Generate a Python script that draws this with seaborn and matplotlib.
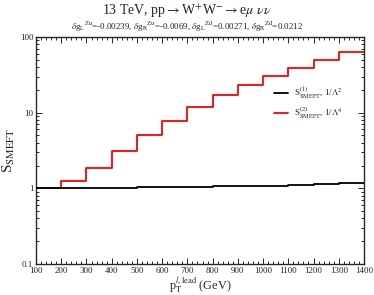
import numpy as np
import pandas as pd
import matplotlib
matplotlib.use("Agg")
import matplotlib.pyplot as plt
import seaborn as sns
from matplotlib.ticker import MultipleLocator, LogLocator, FixedLocator, NullFormatter

# bin edges in GeV and per-bin values
bin_edges = [100, 200, 300, 400, 500, 600, 700, 800, 900, 1000, 1100, 1200, 1300, 1400]
s1_vals = [1.00, 1.005, 1.01, 1.02, 1.03, 1.04, 1.05, 1.06, 1.08, 1.09, 1.11, 1.13, 1.16]
s2_vals = [1.02, 1.24, 1.85, 3.07, 5.0, 7.85, 11.9, 16.9, 23.4, 30.9, 39.5, 50.3, 63.0]
s1_label = r"S$^{(1)}_{\rm SMEFT}$, 1/$\Lambda^2$"
s2_label = r"S$^{(2)}_{\rm SMEFT}$, 1/$\Lambda^4$"

rows = []
for name, vals in [(s1_label, s1_vals), (s2_label, s2_vals)]:
    # repeat last value so the step runs to the final edge
    for x, v in zip(bin_edges, vals + [vals[-1]]):
        rows.append({"pt": x, "S": v, "curve": name})
df = pd.DataFrame(rows)

sns.set_style("ticks")
plt.rcParams["font.family"] = ["Liberation Serif", "DejaVu Serif"]
plt.rcParams["mathtext.fontset"] = "stix"

fig = plt.figure(figsize=(3.74, 2.95), dpi=100)
ax = fig.add_axes([36 / 374, 31 / 295, 328 / 374, 227 / 295])

sns.lineplot(data=df, x="pt", y="S", hue="curve", hue_order=[s2_label, s1_label],
             palette={s1_label: "black", s2_label: "red"},
             drawstyle="steps-post", linewidth=1.3, ax=ax, legend=False)
# black on top of red
ax.lines[0].set_zorder(2)
ax.lines[1].set_zorder(3)

ax.set_yscale("log")
ax.set_xlim(100, 1400)
ax.set_ylim(0.1, 100)

ax.xaxis.set_major_locator(MultipleLocator(100))
ax.xaxis.set_minor_locator(MultipleLocator(20))
ax.yaxis.set_major_locator(FixedLocator([0.1, 1, 10, 100]))
ax.yaxis.set_minor_locator(LogLocator(base=10, subs=np.arange(2, 10)))
ax.yaxis.set_minor_formatter(NullFormatter())
ax.set_yticklabels(["0.1", "1", "10", "100"])

ax.tick_params(which="both", direction="in", top=True, right=True, labelsize=6.5,
               width=0.7, pad=2)
ax.tick_params(which="major", length=4)
ax.tick_params(which="minor", length=2)
for sp in ax.spines.values():
    sp.set_linewidth(1.0)

ax.set_xlabel(r"p$_{\rm T}^{l,\rm lead}$ (GeV)", fontsize=8.8, labelpad=0)
ax.set_ylabel(r"S$_{\rm SMEFT}$", fontsize=11, labelpad=2)

fig.text(0.5, 0.962, r"13 TeV, pp$\rightarrow$W$^{+}$W$^{-}$$\rightarrow$e$\mu$ $\nu\nu$",
         ha="center", va="center", fontsize=10)
fig.text(0.5, 0.908,
         r"$\delta$g$_{\rm L}$$^{\rm Zu}$=-0.00239, $\delta$g$_{\rm R}$$^{\rm Zu}$=-0.0069, "
         r"$\delta$g$_{\rm L}$$^{\rm Zd}$=0.00271, $\delta$g$_{\rm R}$$^{\rm Zd}$=0.0212",
         ha="center", va="center", fontsize=6.5)

handles = [plt.Line2D([], [], color="black", lw=1.3),
           plt.Line2D([], [], color="red", lw=1.3)]
ax.legend(handles, [s1_label, s2_label], loc="center left",
          bbox_to_anchor=(0.70, 0.71), frameon=False, fontsize=6.5,
          handlelength=1.6, handletextpad=0.6, labelspacing=0.5)

fig.savefig("out.png", dpi=100)
